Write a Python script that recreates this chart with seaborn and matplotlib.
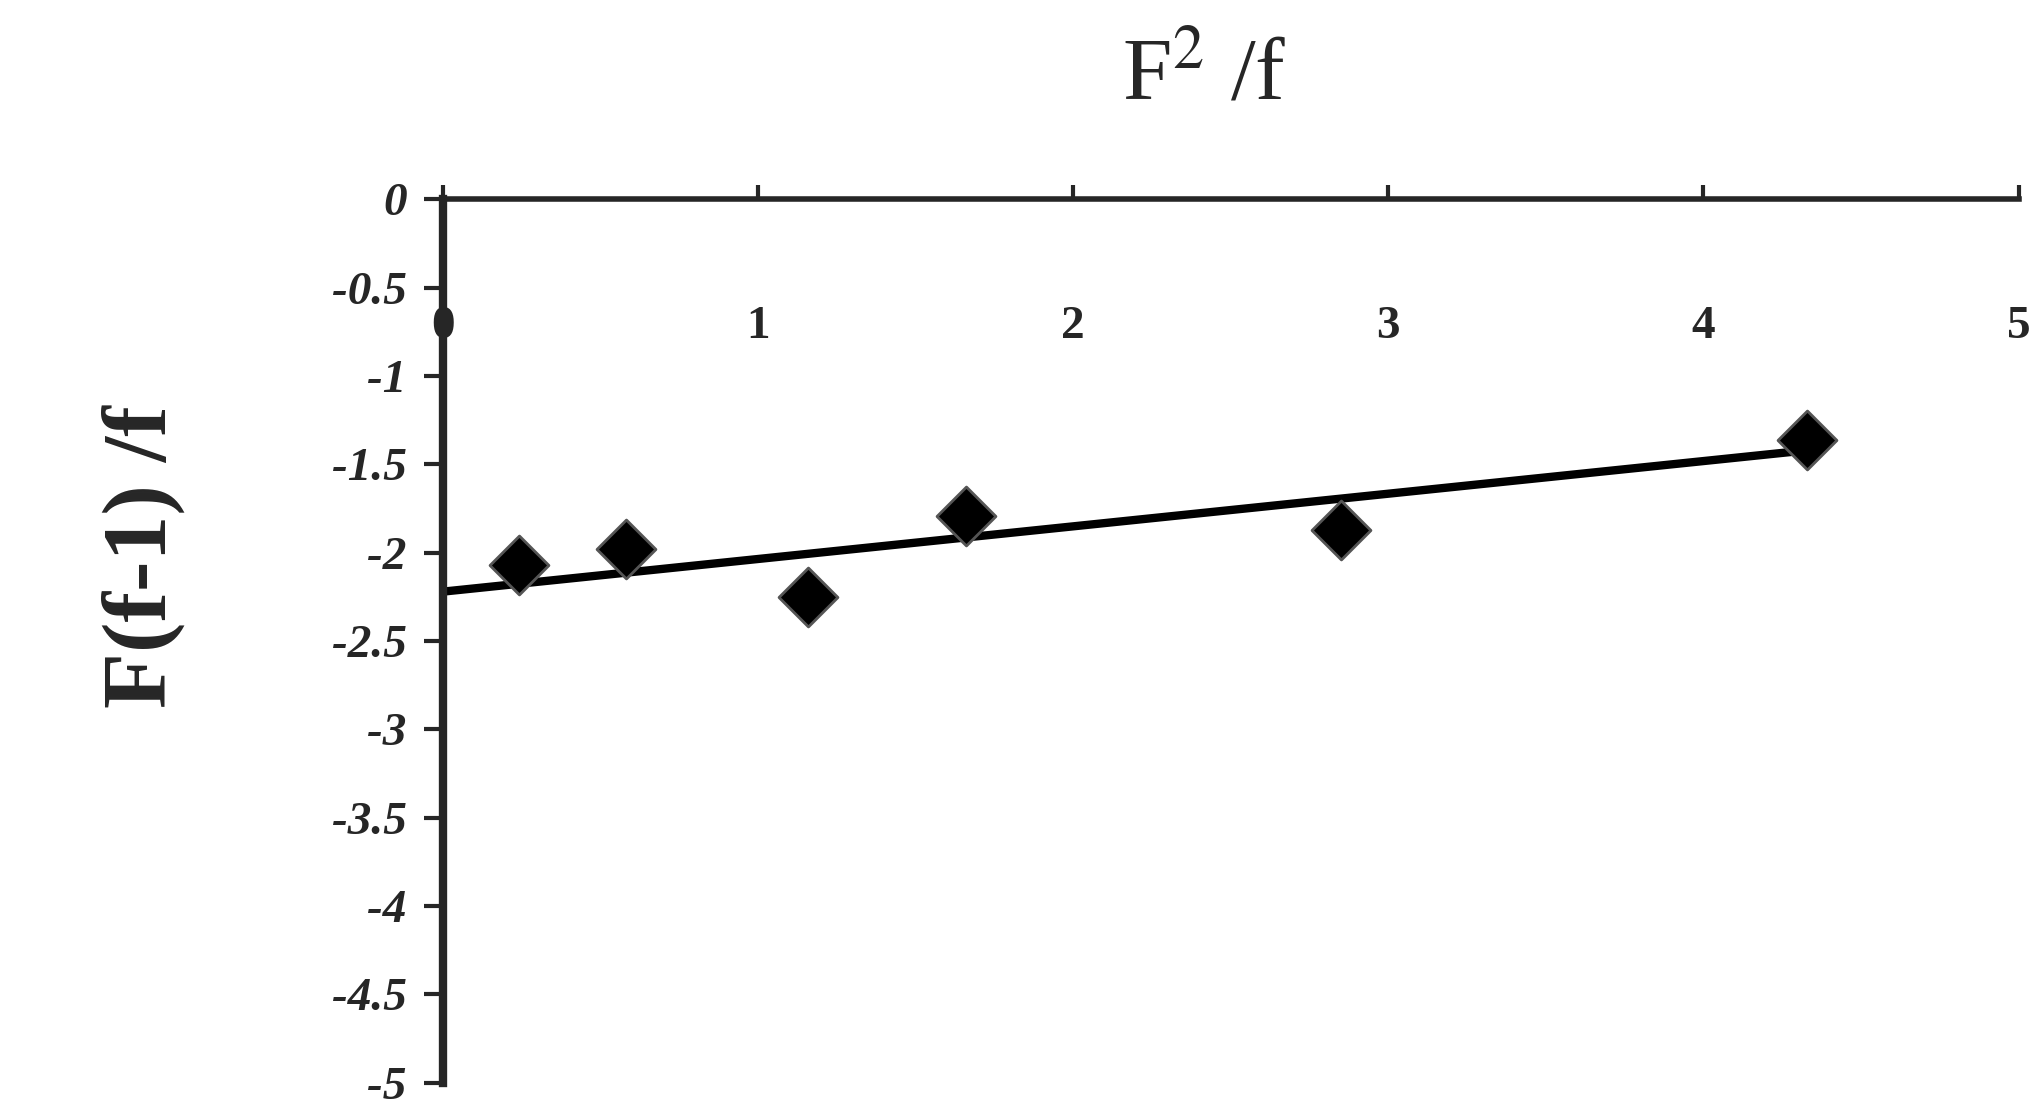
import matplotlib
matplotlib.use('Agg')
import matplotlib.pyplot as plt
import seaborn as sns

x_vals = [0.24, 0.58, 1.16, 1.66, 2.85, 4.33]
y_vals = [-2.07, -1.98, -2.25, -1.79, -1.87, -1.36]
fit_x = [0.0, 4.33]
fit_y = [-2.22, -1.42]
x_ticks = [0, 1, 2, 3, 4, 5]
y_ticks = [0, -0.5, -1, -1.5, -2, -2.5, -3, -3.5, -4, -4.5, -5]

sns.set_style("white")
plt.rcParams['font.family'] = ['Liberation Serif', 'DejaVu Serif']
plt.rcParams['mathtext.fontset'] = 'stix'

fig = plt.figure(figsize=(20.41, 11.14), dpi=100)
ax = fig.add_axes([0.217, 0.028, 0.772, 0.793])

sns.lineplot(x=fit_x, y=fit_y, color='black', linewidth=6, ax=ax)
sns.scatterplot(x=x_vals, y=y_vals, marker='D', s=900, color='black',
                edgecolor='#555555', linewidth=2, ax=ax, zorder=3)

ax.set_xlim(0, 5)
ax.set_ylim(-5, 0)
for s in ['right', 'bottom']:
    ax.spines[s].set_visible(False)
ax.spines['top'].set_linewidth(4)
ax.spines['left'].set_linewidth(6)

# x ticks on the top axis line, labels drawn a little below it
ax.set_xticks(x_ticks)
ax.xaxis.set_ticks_position('top')
ax.tick_params(axis='x', direction='out', length=10, width=3,
               labeltop=False, labelbottom=False)
for t in x_ticks:
    ax.text(t, -0.72, str(t), fontsize=34, fontweight='bold',
            ha='center', va='center', clip_on=False)

ax.set_yticks(y_ticks)
ax.set_yticklabels([('%g' % t) for t in y_ticks], fontsize=34, fontweight='bold', style='italic')
ax.tick_params(axis='y', left=True, direction='out', length=14, width=3, pad=12)

fig.text(0.59, 0.93, r'F$^2$ /f', fontsize=64, ha='center', va='center')
fig.text(0.07, 0.5, 'F(f-1) /f', fontsize=66, fontweight='bold', rotation=90,
         ha='center', va='center')

fig.savefig('out.png', dpi=100)
